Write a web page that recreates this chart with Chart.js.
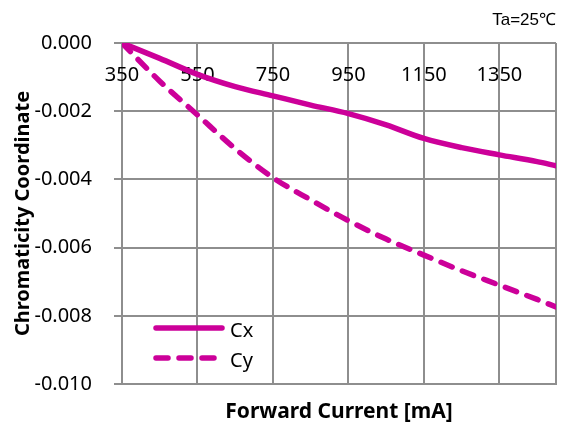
<!DOCTYPE html>
<html>
<head>
<meta charset="utf-8">
<script src="https://cdn.jsdelivr.net/npm/chart.js@4.4.0/dist/chart.umd.min.js"></script>
<style>
  html, body { margin: 0; padding: 0; background: #fff; }
</style>
</head>
<body>
<canvas id="chart" width="566" height="426"></canvas>
<script>
// values
const currents = [350, 450, 550, 650, 750, 850, 950, 1050, 1150, 1250, 1350, 1450, 1500];
const cx = [0, -0.00045, -0.00092, -0.00128, -0.00155, -0.00182, -0.00207, -0.0024, -0.0028, -0.00307, -0.00328, -0.00348, -0.0036];
const cy = [0, -0.00112, -0.00211, -0.0031, -0.00395, -0.0046, -0.00521, -0.00575, -0.00622, -0.00668, -0.0071, -0.00752, -0.00774];
const xTicks = [350, 550, 750, 950, 1150, 1350];
const yTicks = [0, -0.002, -0.004, -0.006, -0.008, -0.010];

const magenta = 'rgb(204, 0, 153)';
const gridColor = '#8e8e8e';
const font = 'Noto Sans';

// x tick labels sit inside the plot, under the top edge
const xLabels = {
  id: 'xLabels',
  beforeDatasetsDraw(chart) {
    const { ctx, chartArea, scales } = chart;
    ctx.save();
    ctx.font = '20px "' + font + '"';
    ctx.fillStyle = '#000';
    ctx.textAlign = 'center';
    ctx.textBaseline = 'middle';
    xTicks.forEach(v => ctx.fillText(String(v), scales.x.getPixelForValue(v), chartArea.top + 32));
    ctx.restore();
  }
};

// legend drawn in the lower left corner of the plot
const insideLegend = {
  id: 'insideLegend',
  afterDraw(chart) {
    const { ctx, chartArea } = chart;
    ctx.save();
    chart.data.datasets.forEach((ds, i) => {
      const y = chartArea.bottom - 56 + i * 30;
      ctx.strokeStyle = ds.borderColor;
      ctx.lineWidth = ds.borderWidth;
      ctx.lineCap = 'round';
      ctx.setLineDash(ds.borderDash || []);
      ctx.beginPath();
      ctx.moveTo(chartArea.left + 34, y);
      ctx.lineTo(chartArea.left + 100, y);
      ctx.stroke();
      ctx.setLineDash([]);
      ctx.font = '20px "' + font + '"';
      ctx.fillStyle = '#000';
      ctx.textAlign = 'left';
      ctx.textBaseline = 'alphabetic';
      ctx.fillText(ds.label, chartArea.left + 108, y + 8.5);
    });
    ctx.restore();
  }
};

new Chart(document.getElementById('chart'), {
  type: 'line',
  data: {
    datasets: [
      {
        label: 'Cx',
        data: currents.map((c, i) => ({ x: c, y: cx[i] })),
        borderColor: magenta,
        borderWidth: 5.5,
        borderCapStyle: 'round',
        pointRadius: 0,
        cubicInterpolationMode: 'monotone',
        clip: 0
      },
      {
        label: 'Cy',
        data: currents.map((c, i) => ({ x: c, y: cy[i] })),
        borderColor: magenta,
        borderWidth: 5.5,
        borderDash: [12, 11],
        borderCapStyle: 'round',
        pointRadius: 0,
        cubicInterpolationMode: 'monotone',
        clip: 0
      }
    ]
  },
  options: {
    responsive: false,
    animation: false,
    devicePixelRatio: 1,
    layout: { padding: { left: 0, right: 10, top: 0, bottom: 0 } },
    plugins: {
      legend: { display: false },
      tooltip: { enabled: false },
      title: {
        display: true,
        text: 'Ta=25℃',
        align: 'end',
        color: '#000',
        font: { family: 'Liberation Sans', size: 17, weight: 'normal' },
        padding: { top: 10, bottom: 12.6 }
      }
    },
    scales: {
      x: {
        type: 'linear',
        min: 350,
        max: 1500,
        afterBuildTicks: s => { s.ticks = xTicks.concat([1500]).map(v => ({ value: v })); },
        ticks: { display: false },
        grid: { color: gridColor, lineWidth: 2, drawTicks: false },
        border: { color: gridColor, width: 2 },
        title: {
          display: true,
          text: 'Forward Current [mA]',
          color: '#000',
          font: { family: font, size: 21, weight: 'bold' },
          padding: { top: 0, bottom: 1 }
        },
        afterFit: s => { s.height = 42; }
      },
      y: {
        type: 'linear',
        min: -0.010,
        max: 0,
        afterBuildTicks: s => { s.ticks = yTicks.map(v => ({ value: v })); },
        ticks: {
          callback: v => v.toFixed(3),
          color: '#000',
          font: { family: font, size: 20 },
          padding: 22
        },
        grid: { color: gridColor, lineWidth: 2, tickLength: 8 },
        border: { color: gridColor, width: 2 },
        title: {
          display: true,
          text: 'Chromaticity Coordinate',
          color: '#000',
          font: { family: font, size: 20, weight: 'bold' },
          padding: { top: 11, bottom: 0 }
        },
        afterFit: s => { s.width = 122; }
      }
    }
  },
  plugins: [xLabels, insideLegend]
});
</script>
</body>
</html>
